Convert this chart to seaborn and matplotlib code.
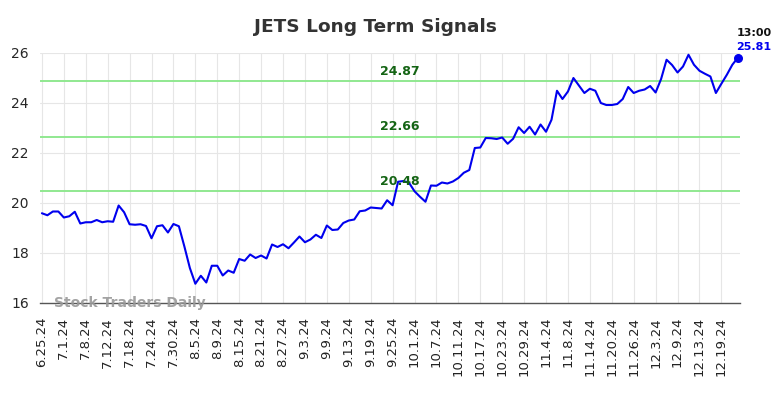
import numpy as np
import pandas as pd
import matplotlib
matplotlib.use("Agg")
import matplotlib.pyplot as plt
import seaborn as sns

# JETS closing prices, one per trading day from 6.25.24 to 12.24.24
prices = [
    19.59, 19.51, 19.66, 19.66, 19.42, 19.47, 19.65, 19.18, 19.23, 19.23,
    19.32, 19.23, 19.27, 19.25, 19.90, 19.63, 19.15, 19.13, 19.15, 19.08,
    18.59, 19.07, 19.11, 18.82, 19.16, 19.07, 18.26, 17.40, 16.77, 17.09,
    16.82, 17.49, 17.49, 17.10, 17.30, 17.21, 17.76, 17.69, 17.94, 17.80,
    17.90, 17.78, 18.34, 18.24, 18.35, 18.19, 18.42, 18.66, 18.43, 18.54,
    18.73, 18.60, 19.10, 18.92, 18.94, 19.20, 19.30, 19.34, 19.67, 19.70,
    19.82, 19.80, 19.78, 20.11, 19.91, 20.85, 20.88, 20.81, 20.47, 20.25,
    20.05, 20.70, 20.69, 20.82, 20.78, 20.86, 21.00, 21.21, 21.32, 22.20,
    22.22, 22.60, 22.59, 22.56, 22.62, 22.37, 22.57, 23.03, 22.80, 23.05,
    22.74, 23.14, 22.85, 23.33, 24.49, 24.16, 24.46, 25.00, 24.70, 24.40,
    24.57, 24.49, 24.00, 23.92, 23.92, 23.96, 24.16, 24.64, 24.40, 24.49,
    24.54, 24.68, 24.42, 24.96, 25.73, 25.52, 25.22, 25.46, 25.93, 25.53,
    25.29, 25.17, 25.06, 24.40, 24.77, 25.13, 25.53, 25.81,
]

# one label every 4 trading days
tick_labels = [
    "6.25.24", "7.1.24", "7.8.24", "7.12.24", "7.18.24", "7.24.24",
    "7.30.24", "8.5.24", "8.9.24", "8.15.24", "8.21.24", "8.27.24",
    "9.3.24", "9.9.24", "9.13.24", "9.19.24", "9.25.24", "10.1.24",
    "10.7.24", "10.11.24", "10.17.24", "10.23.24", "10.29.24", "11.4.24",
    "11.8.24", "11.14.24", "11.20.24", "11.26.24", "12.3.24", "12.9.24",
    "12.13.24", "12.19.24",
]
tick_step = 4

signal_levels = [24.87, 22.66, 20.48]
last_time = "13:00"

df = pd.DataFrame({"day": np.arange(len(prices)), "price": prices})

sns.set_style("whitegrid", {"grid.color": "#e6e6e6"})
plt.rcParams["font.family"] = ["DejaVu Sans"]

fig = plt.figure(figsize=(7.84, 3.98), dpi=100)
ax = fig.add_axes([40 / 784, 1 - 303 / 398, 700 / 784, 250 / 398])

for level in signal_levels:
    ax.axhline(level, color="#90e890", lw=1.4, zorder=1)
    ax.text(65.3, level + 0.12, f"{level:.2f}", color="#146414",
            fontsize=9, fontweight="bold", ha="center", va="bottom", zorder=4)

sns.lineplot(data=df, x="day", y="price", ax=ax, color="#0000ee",
             lw=1.5, zorder=3)

last = df.iloc[-1]
ax.scatter([last["day"]], [last["price"]], color="#0000ee", s=30, zorder=5,
           clip_on=False)
ax.annotate(last_time, (last["day"], last["price"]), xytext=(11.5, 18),
            textcoords="offset points", ha="center", va="center", fontsize=8,
            fontweight="bold", color="#111111", annotation_clip=False)
ax.annotate(f"{last['price']:.2f}", (last["day"], last["price"]),
            xytext=(11.5, 7.8), textcoords="offset points", ha="center",
            va="center", fontsize=8, fontweight="bold", color="#0000ee",
            annotation_clip=False)

ax.set_xlim(-0.35, len(prices) - 0.6)
ax.set_ylim(16, 26)
ax.set_yticks(range(16, 27, 2))
ax.set_xticks(range(0, tick_step * len(tick_labels), tick_step))
ax.set_xticklabels(tick_labels, rotation=90, fontsize=9.5, color="#222222")
ax.tick_params(axis="y", labelsize=10, length=0, pad=8)
ax.tick_params(axis="x", length=0, pad=10)
ax.set_xlabel("")
ax.set_ylabel("")

for side in ["left", "top", "right"]:
    ax.spines[side].set_visible(False)
ax.spines["bottom"].set_color("#555555")
ax.spines["bottom"].set_linewidth(1.0)

ax.text(0.02, 0.0, "Stock Traders Daily", transform=ax.transAxes,
        fontsize=10, fontweight="bold", color="#999999", alpha=0.9,
        va="center", ha="left", zorder=6)

fig.text(375 / 784, 1 - 27 / 398, "JETS Long Term Signals", ha="center",
         va="center", fontsize=13.3, fontweight="bold", color="#333333")

fig.savefig("out.png", dpi=100)
